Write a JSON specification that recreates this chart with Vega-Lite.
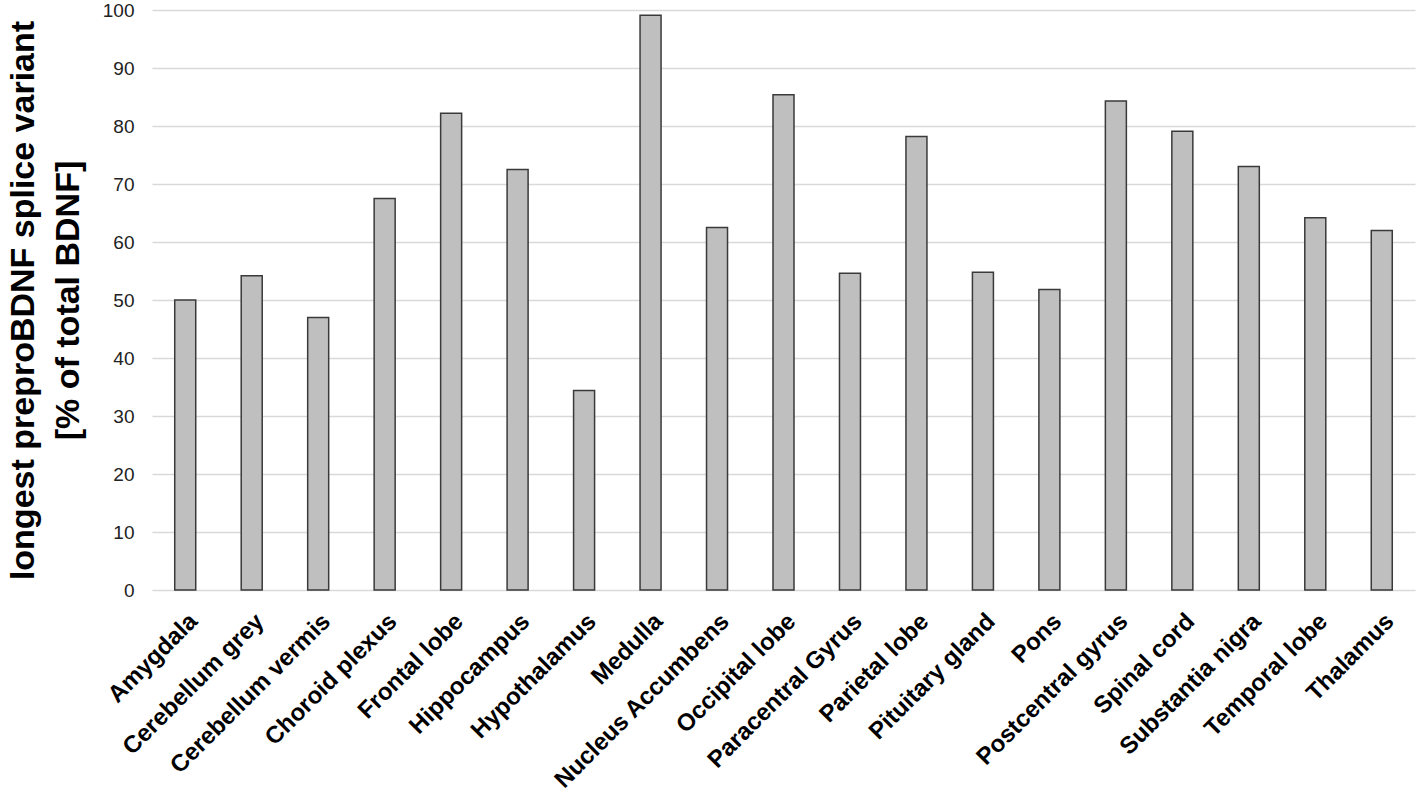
{
  "$schema": "https://vega.github.io/schema/vega-lite/v6.json",
  "autosize": "none",
  "width": 1263,
  "height": 580,
  "padding": {"left": 152, "top": 10, "right": 3, "bottom": 204},
  "background": "white",
  "config": {
    "view": {"stroke": null},
    "font": "Liberation Sans"
  },
  "data": {
    "values": [
      {"region": "Amygdala", "value": 50.0},
      {"region": "Cerebellum grey", "value": 54.2},
      {"region": "Cerebellum vermis", "value": 47.0},
      {"region": "Choroid plexus", "value": 67.5},
      {"region": "Frontal lobe", "value": 82.2},
      {"region": "Hippocampus", "value": 72.5},
      {"region": "Hypothalamus", "value": 34.4},
      {"region": "Medulla", "value": 99.1},
      {"region": "Nucleus Accumbens", "value": 62.5},
      {"region": "Occipital lobe", "value": 85.4},
      {"region": "Paracentral Gyrus", "value": 54.6},
      {"region": "Parietal lobe", "value": 78.2},
      {"region": "Pituitary gland", "value": 54.8},
      {"region": "Pons", "value": 51.8},
      {"region": "Postcentral gyrus", "value": 84.3},
      {"region": "Spinal cord", "value": 79.1},
      {"region": "Substantia nigra", "value": 73.0},
      {"region": "Temporal lobe", "value": 64.2},
      {"region": "Thalamus", "value": 62.0}
    ]
  },
  "mark": {"type": "bar", "fill": "#bfbfbf", "stroke": "#3a3a3a", "strokeWidth": 1.5},
  "encoding": {
    "x": {
      "field": "region",
      "type": "nominal",
      "sort": null,
      "scale": {"paddingInner": 0.684, "paddingOuter": 0.342},
      "axis": {
        "title": null,
        "labelAngle": -45,
        "labelFontSize": 24,
        "labelFontWeight": "bold",
        "labelColor": "#000000",
        "labelPadding": 19,
        "labelLimit": 0,
        "labelOverlap": false,
        "ticks": false,
        "domain": false,
        "grid": false
      }
    },
    "y": {
      "field": "value",
      "type": "quantitative",
      "scale": {"domain": [0, 100], "nice": false},
      "axis": {
        "values": [0, 10, 20, 30, 40, 50, 60, 70, 80, 90, 100],
        "title": ["longest  preproBDNF  splice variant", "[% of total BDNF]"],
        "titleFontSize": 34,
        "titleFontWeight": "bold",
        "titleColor": "#000000",
        "titleLineHeight": 45,
        "titlePadding": 17,
        "labelFontSize": 19,
        "labelColor": "#222222",
        "labelPadding": 18,
        "ticks": false,
        "domain": false,
        "grid": true,
        "gridColor": "#d9d9d9",
        "gridWidth": 1.5
      }
    }
  }
}
